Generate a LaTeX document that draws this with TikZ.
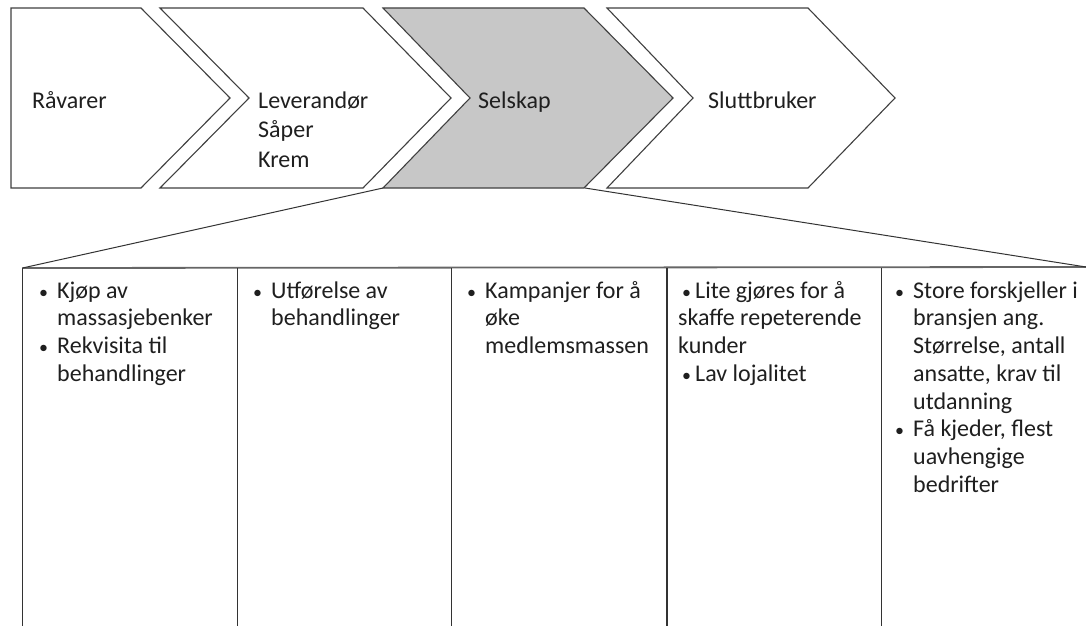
\documentclass[tikz,border=0pt]{standalone}
\usepackage{fontspec}
\setmainfont{Carlito}
\begin{document}
\begin{tikzpicture}[x=1pt,y=-1pt,
  chev/.style={draw=black!75,line width=1.1pt,line join=miter},
  chevtext/.style={anchor=north west,inner sep=0pt,align=left,text=black!88,font=\fontsize{24}{29.5}\selectfont},
  coltext/.style={anchor=north west,inner sep=0pt,align=left,text=black!88,font=\fontsize{24}{27.7}\selectfont},
  tline/.style={draw=black!80,line width=1.2pt},
  funnel/.style={draw=black!80,line width=1pt}]
\useasboundingbox (0,0) rectangle (1086,626);
\newcommand\fl{\rule{0pt}{18pt}}
% chevrons
\draw[chev,fill=white] (11,8) -- (141,8) -- (230,98) -- (141,188) -- (11,188) -- cycle;
\draw[chev,fill=white] (160,8) -- (363,8) -- (451,98) -- (363,188) -- (160,188) -- (249,98) -- cycle;
\draw[chev,fill=black!22] (383,8) -- (584,8) -- (673,98) -- (584,188) -- (383,188) -- (470,98) -- cycle;
\draw[chev,fill=white] (607,8) -- (808,8) -- (895,98) -- (808,188) -- (607,188) -- (693,98) -- cycle;
\coordinate (c3bl) at (383,188);
\coordinate (c3br) at (585,188);
% chevron texts
\node[chevtext] (ravarer) at (32,90) {\fl Råvarer};
\node[chevtext] (leverandor) at (258,90) {\fl Leverandør\\Såper\\Krem};
\node[chevtext] (selskap) at (478,90) {\fl Selskap};
\node[chevtext] (sluttbruker) at (708,90) {\fl Sluttbruker};
% table
\coordinate (tl) at (22.5,268);
\coordinate (tr) at (1086,267);
\draw[tline,draw=black!60,line width=1.8pt] (tl) -- (tr);
\foreach \x in {22.5,237.5,451.5,667,881.5}{
  \draw[tline] (\x,268) -- (\x,626);
}
% funnel
\draw[funnel] (c3bl) -- (tl);
\draw[funnel] (c3br) -- (tr);
% column texts
\newcommand\bul{{\fontsize{18}{18}\selectfont\textbullet}}
\newcommand\bl{\llap{\bul\hspace{9pt}}}
\node[coltext] (col1) at (57,280) {\fl\bl Kjøp av\\massasjebenker\\\bl Rekvisita til\\behandlinger};
\node[coltext] (col2) at (271,280) {\fl\bl Utførelse av\\behandlinger};
\node[coltext] (col3) at (485,280) {\fl\bl Kampanjer for å\\øke\\medlemsmassen};
\node[coltext] (col4) at (678,280) {\fl\hspace{4pt}\bul\hspace{4pt}Lite gjøres for å\\skaffe repeterende\\kunder\\\hspace{4pt}\bul\hspace{4pt}Lav lojalitet};
\node[coltext] (col5) at (913,280) {\fl\bl Store forskjeller i\\bransjen ang.\\Størrelse, antall\\ansatte, krav til\\utdanning\\\bl Få kjeder, flest\\uavhengige\\bedrifter};
\end{tikzpicture}
\end{document}
